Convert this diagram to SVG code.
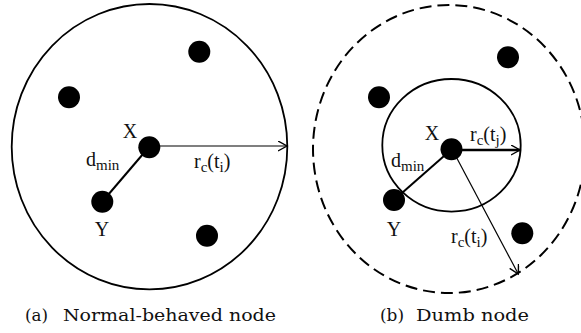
<svg xmlns="http://www.w3.org/2000/svg" width="581" height="333" viewBox="0 0 581 333">
<style>
.ring{fill:none;stroke:#000;stroke-width:1.8}
.dash{fill:none;stroke:#000;stroke-width:2;stroke-dasharray:12 6}
.dot{fill:#000}
.lbl{font-family:"Liberation Serif","Times New Roman",serif;font-size:20px;fill:#111}
.sub{font-size:15px}
.cap{font-family:"DejaVu Serif","Liberation Serif",serif;font-size:16px;fill:#111}
.thin{stroke:#000;stroke-width:1.2;fill:none}
.thick{stroke:#000;stroke-width:2.4;fill:none}
.seg{stroke:#000;stroke-width:2;fill:none}
</style>
<defs>
<marker id="ah" markerUnits="userSpaceOnUse" markerWidth="12" markerHeight="12" refX="9" refY="5" orient="auto">
<path d="M0,0 L9,5 L0,10" fill="none" stroke="#000" stroke-width="1.4"/>
</marker>
</defs>
<rect width="581" height="333" fill="#fff"/>

<!-- Panel (a) -->
<g id="panel-a">
<ellipse id="range-a" class="ring" cx="149.5" cy="146.7" rx="137.8" ry="142.7"/>
<g id="connectors-a">
<line class="thin" x1="150" y1="146" x2="287" y2="146" marker-end="url(#ah)"/>
<line class="seg" x1="149" y1="147" x2="102" y2="202"/>
</g>
<g id="a-node1"><circle class="dot" cx="199.3" cy="51.7" r="11"/></g>
<g id="a-node2"><circle class="dot" cx="69" cy="97.3" r="11"/></g>
<g id="a-nodeX"><circle class="dot" cx="149.3" cy="147.3" r="11"/><text class="lbl" x="130" y="138" text-anchor="middle">X</text></g>
<g id="a-nodeY"><circle class="dot" cx="102.3" cy="201.7" r="11"/><text class="lbl" x="102" y="236" text-anchor="middle">Y</text></g>
<g id="a-node3"><circle class="dot" cx="207" cy="235.7" r="11"/></g>
<text class="lbl" x="86" y="166">d<tspan class="sub" dy="4">min</tspan></text>
<text class="lbl" x="194" y="168">r<tspan class="sub" dy="4">c</tspan><tspan dy="-4">(t</tspan><tspan class="sub" dy="4">i</tspan><tspan dy="-4">)</tspan></text>
</g>

<!-- Panel (b) -->
<g id="panel-b">
<ellipse id="range-b-outer" class="dash" cx="449" cy="149" rx="136" ry="144"/>
<ellipse id="range-b-inner" class="ring" cx="451.5" cy="145.3" rx="69.2" ry="66.3"/>
<g id="connectors-b">
<line class="thick" x1="452" y1="150" x2="520" y2="150" marker-end="url(#ah)"/>
<line class="thin" x1="452" y1="149" x2="518.3" y2="274" marker-end="url(#ah)"/>
<line class="seg" x1="452" y1="149" x2="394" y2="200"/>
</g>
<g id="b-node1"><circle class="dot" cx="508" cy="57.3" r="11"/></g>
<g id="b-node2"><circle class="dot" cx="379" cy="97.3" r="11"/></g>
<g id="b-nodeX"><circle class="dot" cx="451.5" cy="149.3" r="11"/><text class="lbl" x="432" y="140" text-anchor="middle">X</text></g>
<g id="b-nodeY"><circle class="dot" cx="394" cy="200" r="11"/><text class="lbl" x="394" y="236" text-anchor="middle">Y</text></g>
<g id="b-node3"><circle class="dot" cx="522.3" cy="233.3" r="11"/></g>
<text class="lbl" x="391" y="167">d<tspan class="sub" dy="4">min</tspan></text>
<text class="lbl" x="470" y="141">r<tspan class="sub" dy="4">c</tspan><tspan dy="-4">(t</tspan><tspan class="sub" dy="4">j</tspan><tspan dy="-4">)</tspan></text>
<text class="lbl" x="451" y="243">r<tspan class="sub" dy="4">c</tspan><tspan dy="-4">(t</tspan><tspan class="sub" dy="4">i</tspan><tspan dy="-4">)</tspan></text>
</g>

<!-- Captions -->
<text class="cap" x="25" y="321" textLength="23" lengthAdjust="spacingAndGlyphs">(a)</text>
<text class="cap" x="63" y="321" textLength="213" lengthAdjust="spacingAndGlyphs">Normal-behaved node</text>
<text class="cap" x="380" y="321" textLength="24" lengthAdjust="spacingAndGlyphs">(b)</text>
<text class="cap" x="416" y="321" textLength="113" lengthAdjust="spacingAndGlyphs">Dumb node</text>
</svg>
